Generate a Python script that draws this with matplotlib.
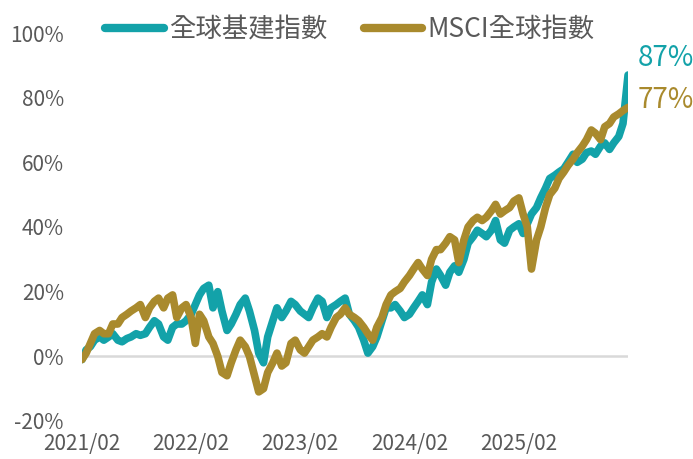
import matplotlib
matplotlib.use("Agg")
import matplotlib.pyplot as plt
import pandas as pd

plt.rcParams['font.family'] = ['Noto Sans CJK TC', 'DejaVu Sans']

# semi-monthly readings, % change since 2021/02
infra = [
    -1, 2, 3, 5, 6, 5, 6, 7, 5, 4.5,
    5.5, 6, 7, 6.5, 7, 9, 11, 10, 6, 5,
    9, 10, 10, 11, 13, 16, 19, 21, 22, 15,
    20, 14, 8, 10, 13, 16, 18, 14, 8, 1,
    -2, 6, 11, 15, 12, 14, 17, 16, 14, 13,
    12, 15, 18, 17, 12, 15, 16, 17, 18, 13,
    11, 9, 5, 1, 3, 6, 11, 15, 15, 16,
    14, 12, 13, 15, 17, 19, 16, 23, 27, 25,
    22, 26, 28, 26, 30, 35, 37, 39, 38, 37,
    39, 42, 36, 35, 39, 40, 41, 38, 41, 44,
    46, 49, 52, 55, 56, 57, 58, 60, 62.5, 60,
    61, 63, 63.5, 62.5, 65, 66, 64, 66, 68, 72,
    87,
]
msci = [
    -1, 1, 4, 7, 8, 7, 7, 10, 10, 12,
    13, 14, 15, 16, 12, 15, 17, 18, 15, 18,
    19, 12, 15, 16, 12, 4, 13, 11, 6, 4,
    0, -5, -6, -2, 2, 5, 3, 0, -6, -11,
    -10, -5, -2, 1, -3, -2, 4, 5, 2, 1,
    3, 5, 6, 7, 6, 9, 12, 13, 15, 13,
    12, 11, 9, 7, 5, 9, 12, 16, 19, 20,
    21, 23, 25, 27, 29, 27, 25, 30, 33, 33,
    35, 37, 36, 29, 36, 40, 42, 43, 42, 43,
    45, 47, 44, 45, 46, 48, 49, 44, 40, 27,
    36, 40, 46, 50, 52, 55, 57, 59, 61, 63,
    65, 67, 70, 69, 67, 71, 72, 74, 75, 76,
    77,
]
labels = ['全球基建指數', 'MSCI全球指數']
tick_dates = ['2021-02-01', '2022-02-01', '2023-02-01', '2024-02-01', '2025-02-01']
tick_labels = ['2021/02', '2022/02', '2023/02', '2024/02', '2025/02']

teal = '#13A2A9'
gold = '#A98A2D'
grey = '#595959'

dates = pd.date_range('2021-02-01', periods=len(infra), freq='SMS')

fig = plt.figure(figsize=(6.93, 4.59), dpi=100)
ax = fig.add_axes([0.1183, 0.0828, 0.788, 0.8453])

ax.axhline(0, color='#D9D9D9', linewidth=1.8, zorder=1)
l1, = ax.plot(dates, infra, color=teal, linewidth=5.5,
              solid_capstyle='round', solid_joinstyle='round', zorder=2)
l2, = ax.plot(dates, msci, color=gold, linewidth=5.5,
              solid_capstyle='round', solid_joinstyle='round', zorder=3)

ax.set_xlim(dates[0], dates[-1])
ax.set_ylim(-20, 100)
ax.set_yticks(range(-20, 101, 20))
ax.set_yticklabels(['{}%'.format(v) for v in range(-20, 101, 20)])
ax.set_xticks(pd.to_datetime(tick_dates))
ax.set_xticklabels(tick_labels)
ax.tick_params(axis='both', length=0, labelsize=15, labelcolor=grey)
ax.tick_params(axis='y', pad=13)
ax.tick_params(axis='x', pad=9)
for s in ax.spines.values():
    s.set_visible(False)

# end labels
ax.annotate('{:.0f}%'.format(infra[-1]), (dates[-1], infra[-1]),
            xytext=(10, 17), textcoords='offset pixels',
            color=teal, fontsize=20, va='center', ha='left',
            annotation_clip=False)
ax.annotate('{:.0f}%'.format(msci[-1]), (dates[-1], msci[-1]),
            xytext=(10, 7), textcoords='offset pixels',
            color=gold, fontsize=20, va='center', ha='left',
            annotation_clip=False)

leg = fig.legend([l1, l2], labels, loc='center', bbox_to_anchor=(0.505, 0.935),
                 ncol=2, frameon=False, fontsize=19, handlelength=2.2,
                 handletextpad=0.2, columnspacing=1.4, labelcolor=grey)
for h in leg.get_lines():
    h.set_linewidth(6)
    h.set_solid_capstyle('round')

fig.savefig('out.png', dpi=100)
